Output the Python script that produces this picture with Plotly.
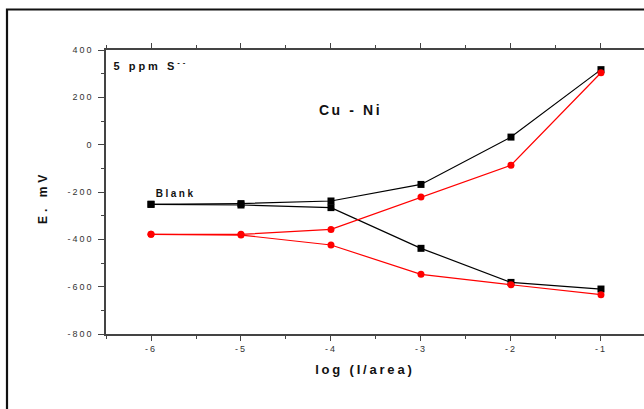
import plotly.graph_objects as go

# data
x_vals = [-6, -5, -4, -3, -2, -1]
blank_up = [-252, -249, -238, -168, 32, 317]
blank_down = [-252, -255, -266, -438, -582, -610]
cuni_up = [-379, -379, -358, -221, -87, 304]
cuni_down = [-379, -382, -424, -548, -592, -634]
y_ticks = [400, 200, 0, -200, -400, -600, -800]
x_ticks = [-6, -5, -4, -3, -2, -1]

FONT = "Liberation Sans, Arial, sans-serif"
fig = go.Figure()

def add(y, color, symbol):
    fig.add_trace(go.Scatter(
        x=x_vals, y=y, mode="lines+markers",
        line=dict(color=color, width=1.2),
        marker=dict(symbol=symbol, size=7, color=color),
        showlegend=False, hoverinfo="skip"))

add(blank_up, "#000000", "square")
add(blank_down, "#000000", "square")
add(cuni_up, "#ff0000", "circle")
add(cuni_down, "#ff0000", "circle")

axis_col = "#444444"
fig.update_xaxes(
    range=[-6.5, -0.522], tickvals=x_ticks, ticktext=[str(v) for v in x_ticks],
    ticks="outside", ticklen=5, tickwidth=1, tickcolor=axis_col,
    minor=dict(dtick=0.5, tick0=-6.5, ticks="outside", ticklen=3, tickcolor=axis_col),
    showline=True, linecolor=axis_col, linewidth=1.5, mirror="ticks",
    showgrid=False, zeroline=False,
    tickfont=dict(family=FONT, size=9, color="#333"),
)
fig.update_yaxes(
    range=[-800, 400], tickvals=y_ticks, ticktext=[str(v) for v in y_ticks],
    ticks="outside", ticklen=6, tickwidth=1, tickcolor=axis_col,
    minor=dict(dtick=100, tick0=-800, ticks="outside", ticklen=3, tickcolor=axis_col),
    showline=True, linecolor=axis_col, linewidth=1.5, mirror=False,
    showgrid=False, zeroline=False, ticklabelstandoff=3,
    tickfont=dict(family=FONT, size=9, color="#333"),
)

def px(p):
    return (p - 106) / 538

def py(q):
    return (334 - q) / 284

ann_font = dict(family=FONT, color="#111")
def ann(text, x, y, size, angle=0):
    fig.add_annotation(text=text, xref="paper", yref="paper", x=px(x), y=py(y),
                       xanchor="center", yanchor="middle", showarrow=False,
                       textangle=angle, font=dict(size=size, **ann_font))

ann("<b>5 ppm S<sup>--</sup></b>", 151, 65, 11)
ann("<b>Cu - Ni</b>", 350, 110, 14)
ann("<b>Blank</b>", 176, 193, 10)
ann("<b>log (I/area)</b>", 365, 369, 13)
ann("<b>E. mV</b>", 43, 198, 12, -90)

# outer frame
fig.add_shape(type="rect", xref="paper", yref="paper",
              x0=px(7), x1=1.2, y0=-0.5, y1=py(9.5),
              line=dict(color="#111111", width=2.2), fillcolor="rgba(0,0,0,0)", layer="above")

fig.update_layout(width=644, height=409, margin=dict(l=106, r=0, t=50, b=75),
                  paper_bgcolor="white", plot_bgcolor="white")

post = """
var gd = document.getElementById('{plot_id}');
function sp(){
  gd.querySelectorAll('.xtick text, .ytick text').forEach(function(t){t.style.letterSpacing='2px';});
  gd.querySelectorAll('.annotation-text').forEach(function(t){
    var s = t.textContent || '';
    var v = '3px';
    if (s.indexOf('Cu') === 0) v = '2.6px';
    else if (s.indexOf('log') === 0) v = '2.8px';
    else if (s.indexOf('Blank') === 0) v = '2.5px';
    else if (s.indexOf('E.') === 0) v = '4px';
    t.style.letterSpacing = v;
  });
}
sp();
gd.on && gd.on('plotly_afterplot', sp);
"""
fig.write_html("out.html", post_script=post)
